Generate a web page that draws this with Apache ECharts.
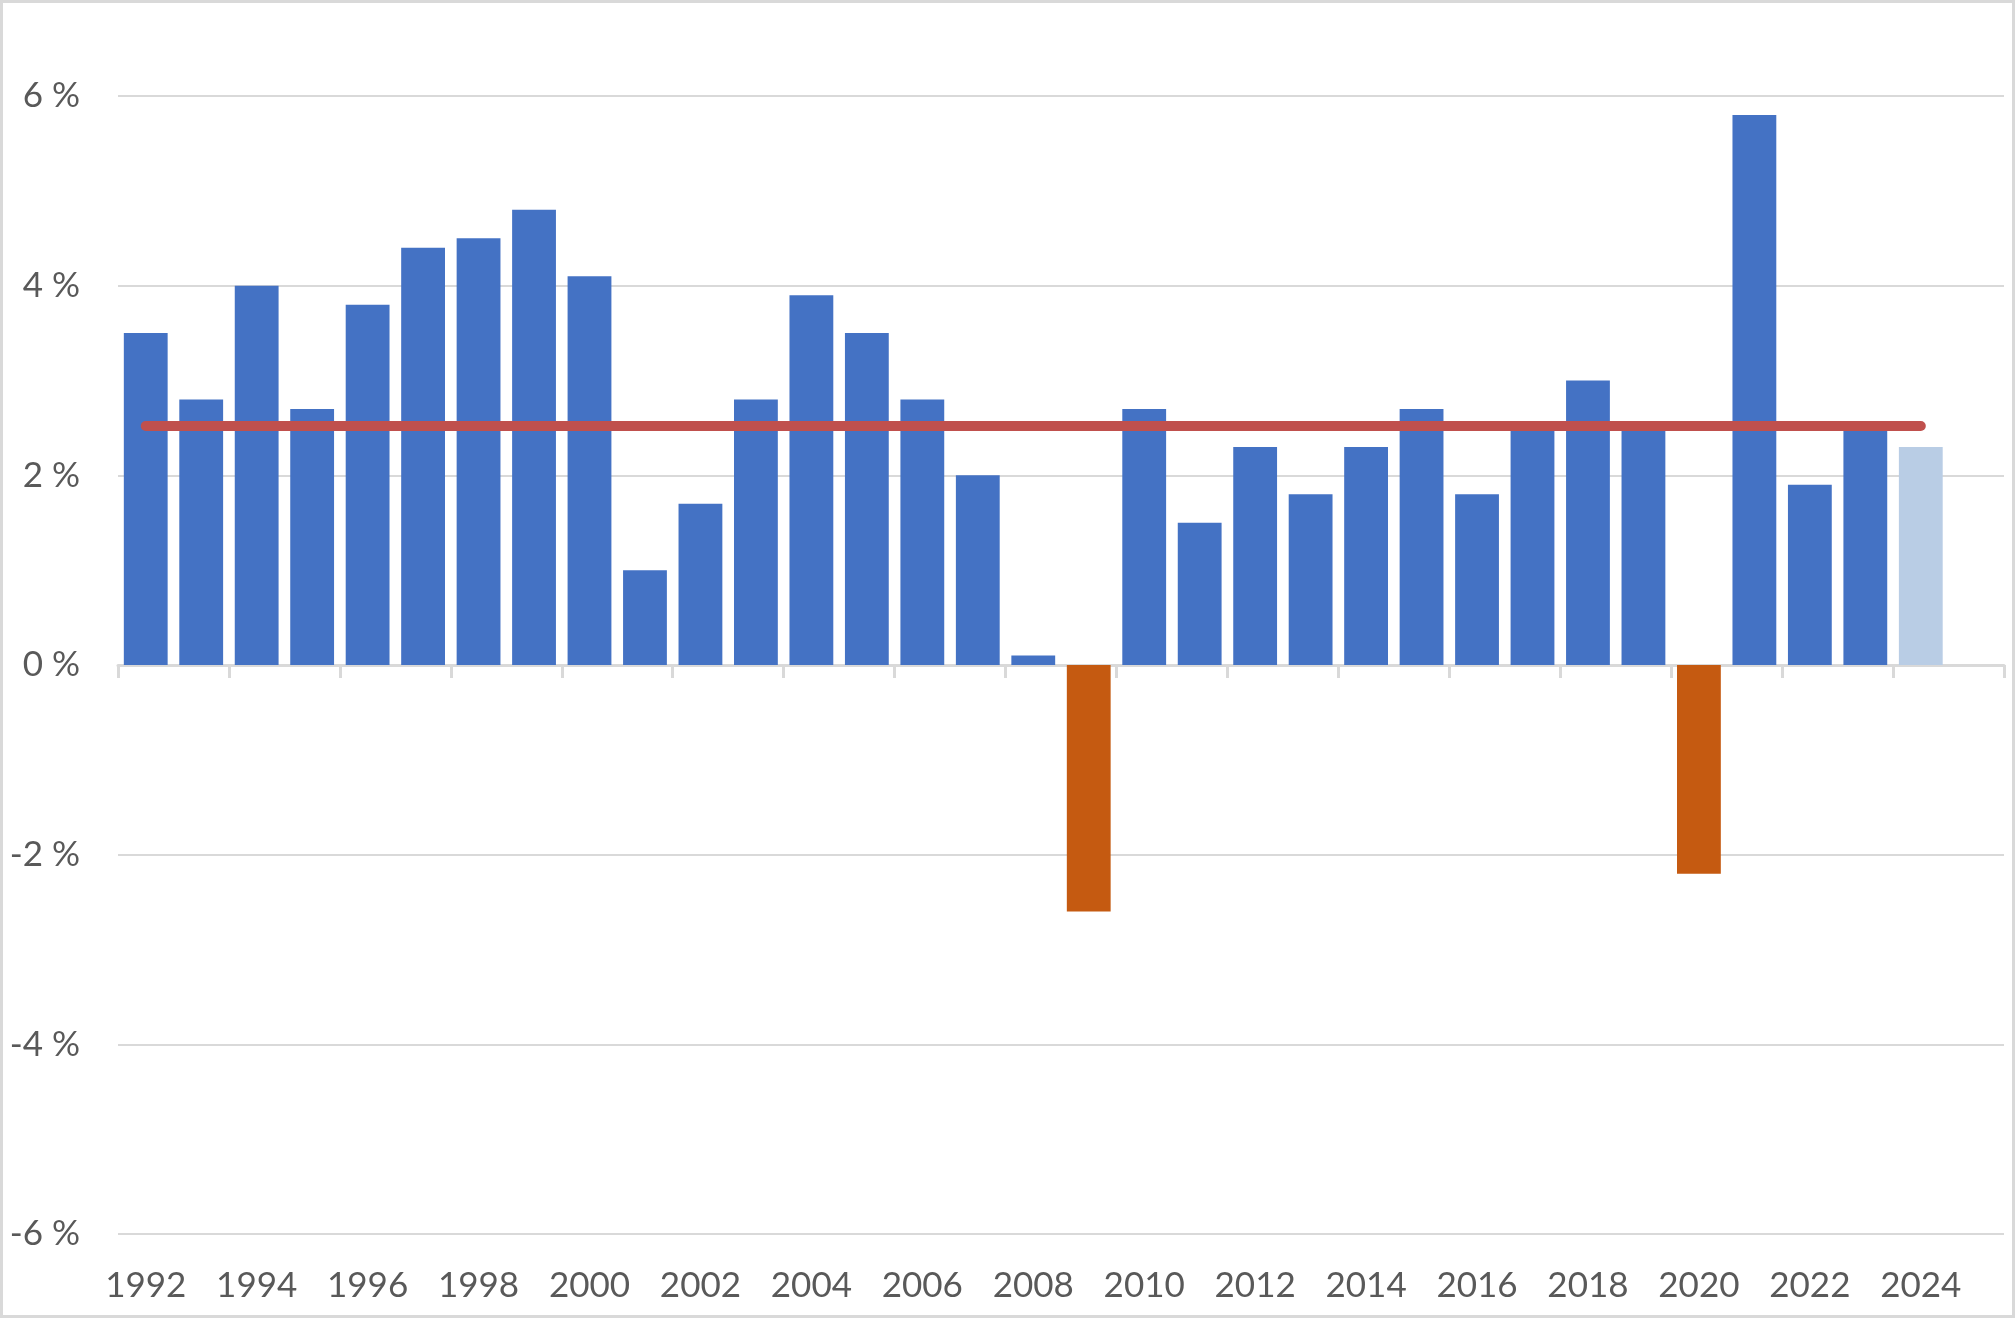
<!DOCTYPE html>
<html>
<head>
<meta charset="utf-8">
<script src="https://cdn.jsdelivr.net/npm/echarts@6/dist/echarts.min.js"></script>
<style>
html,body{margin:0;padding:0;background:#fff;}
#chart{width:2016px;height:1319px;}
</style>
</head>
<body>
<div id="chart"></div>
<script>
const years = ['1992','1993','1994','1995','1996','1997','1998','1999','2000','2001','2002','2003','2004','2005','2006','2007','2008','2009','2010','2011','2012','2013','2014','2015','2016','2017','2018','2019','2020','2021','2022','2023','2024','2025'];
const growth = [3.5,2.8,4.0,2.7,3.8,4.4,4.5,4.8,4.1,1.0,1.7,2.8,3.9,3.5,2.8,2.0,0.1,-2.6,2.7,1.5,2.3,1.8,2.3,2.7,1.8,2.5,3.0,2.5,-2.2,5.8,1.9,2.5,2.3,null];
const averageGrowth = 2.52;
const averageFrom = '1992';
const averageTo = '2024';
const forecastYear = '2024';
const yMin = -6, yMax = 6, yStep = 2;

const FONT = 'Lato';
const TXT = '#595959';
const GRID = '#D9D9D9';

const chart = echarts.init(document.getElementById('chart'), null, {renderer:'canvas'});
chart.setOption({
  animation:false,
  backgroundColor:'#ffffff',
  textStyle:{fontFamily:FONT},
  graphic:[{
    type:'rect', silent:true, z:-1,
    shape:{x:1.5,y:1.5,width:2012,height:1315},
    style:{fill:'none',stroke:GRID,lineWidth:3}
  }],
  grid:{left:118,right:12,top:96,bottom:85,containLabel:false},
  xAxis:[{
    type:'category', data:years, boundaryGap:true,
    axisLine:{show:true,onZero:true,lineStyle:{color:GRID,width:3}},
    axisTick:{show:true,interval:1,length:13,lineStyle:{color:GRID,width:3}},
    axisLabel:{show:false},
    splitLine:{show:false}
  },{
    type:'category', data:years, boundaryGap:true, position:'bottom',
    axisLine:{show:false,onZero:false},
    axisTick:{show:false},
    axisLabel:{show:true,interval:1,margin:34,color:TXT,fontSize:35,fontFamily:FONT},
    splitLine:{show:false}
  }],
  yAxis:{
    type:'value', min:yMin, max:yMax, interval:yStep,
    axisLine:{show:false}, axisTick:{show:false},
    axisLabel:{margin:38,color:TXT,fontSize:35,fontFamily:FONT,formatter:v=>v+' %'},
    splitLine:{show:true,lineStyle:{color:GRID,width:2}}
  },
  series:[{
    type:'bar', xAxisIndex:0, data:growth, barWidth:'79%', z:2,
    itemStyle:{color:p=> (p.value<0 ? '#C55A11' : (p.name===forecastYear ? '#B9CDE5' : '#4472C4'))}
  },{
    type:'line', xAxisIndex:0, data:[], z:5, silent:true,
    markLine:{
      silent:true, symbol:['none','none'], animation:false,
      label:{show:false},
      lineStyle:{color:'#C0504D',width:10,type:'solid',cap:'round'},
      emphasis:{disabled:true},
      data:[[{coord:[averageFrom,averageGrowth]},{coord:[averageTo,averageGrowth]}]]
    }
  }]
});
</script>
</body>
</html>
